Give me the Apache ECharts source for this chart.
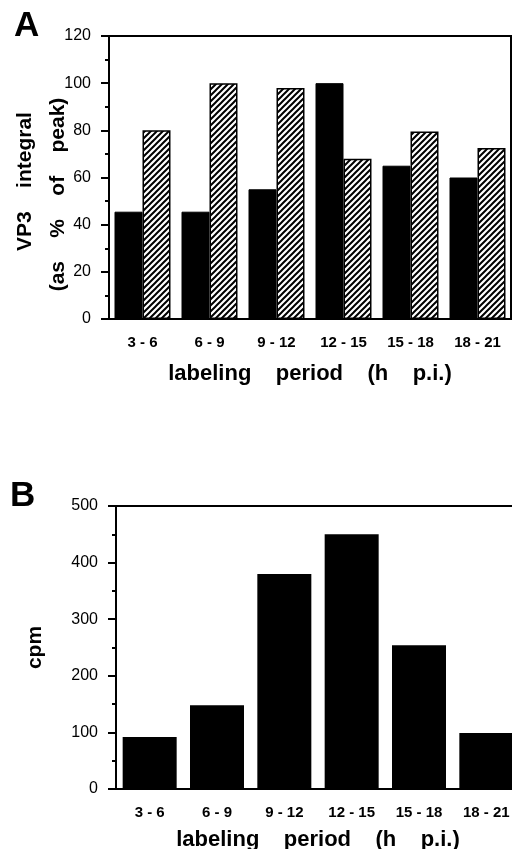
<!DOCTYPE html>
<html>
<head>
<meta charset="utf-8">
<script src="https://cdn.jsdelivr.net/npm/echarts@6/dist/echarts.min.js"></script>
<style>
  html, body { margin: 0; background: #fff; }
  #chart { width: 512px; height: 849px; }
</style>
</head>
<body>
<div id="chart"></div>
<script>
// labeling periods (h p.i.)
const categories = ['3-6', '6-9', '9-12', '12-15', '15-18', '18-21'];
// panel A: VP3 integral, % of peak
const vp3Solid = [45.5, 45.5, 55, 100, 65, 60];
const vp3Hatched = [80, 100, 98, 68, 79.5, 72.5];
// panel B: cpm
const cpm = [92, 148, 380, 450, 254, 99];

const font = '"Liberation Sans", Arial, Helvetica, sans-serif';

// diagonal hatch tile for the striped bars
function hatchTile() {
  const c = document.createElement('canvas');
  c.width = 6; c.height = 6;
  const ctx = c.getContext('2d');
  ctx.fillStyle = '#fff';
  ctx.fillRect(0, 0, 6, 6);
  ctx.strokeStyle = '#000';
  ctx.lineWidth = 2;
  ctx.beginPath();
  ctx.moveTo(-1, 7); ctx.lineTo(7, -1);
  ctx.moveTo(-1, 1); ctx.lineTo(1, -1);
  ctx.moveTo(5, 7); ctx.lineTo(7, 5);
  ctx.stroke();
  return c;
}

const nameStyle = { color: '#000', fontSize: 21, fontWeight: 'bold', fontFamily: font, lineHeight: 33 };

function catAxis(gridIndex, nameGap) {
  return {
    type: 'category',
    gridIndex: gridIndex,
    data: categories,
    axisLine: { lineStyle: { color: '#000', width: 2 } },
    axisTick: { length: 4, lineStyle: { color: '#000', width: 2 } },
    axisLabel: {
      color: '#000', fontSize: 15, fontWeight: 'bold', fontFamily: font, margin: 16,
      formatter: v => v.replace('-', ' - ')
    },
    name: 'labeling    period    (h    p.i.)',
    nameLocation: 'middle',
    nameGap: nameGap,
    nameMoveOverlap: false,
    nameTextStyle: { color: '#000', fontSize: 22, fontWeight: 'bold', fontFamily: font }
  };
}

function valAxis(gridIndex, max, interval, name, nameGap) {
  return {
    type: 'value',
    gridIndex: gridIndex,
    min: 0,
    max: max,
    interval: interval,
    axisLine: { show: true, lineStyle: { color: '#000', width: 2 } },
    axisTick: { show: true, length: 8, lineStyle: { color: '#000', width: 2 } },
    minorTick: { show: true, splitNumber: 2, length: 4, lineStyle: { color: '#000', width: 2 } },
    splitLine: { show: false },
    axisLabel: { color: '#000', fontSize: 16, fontFamily: font, margin: 18 },
    name: name,
    nameLocation: 'middle',
    nameGap: nameGap,
    nameMoveOverlap: false,
    nameRotate: 90,
    nameTextStyle: Object.assign({}, nameStyle, {
      rich: {
        l1: Object.assign({}, nameStyle, { padding: [0, 8, 0, 0] }),
        l2: Object.assign({}, nameStyle, { padding: [0, 34, 0, 0] })
      }
    })
  };
}

const chart = echarts.init(document.getElementById('chart'));

chart.setOption({
  animation: false,
  backgroundColor: '#fff',
  grid: [
    { left: 109, top: 36, right: 1, height: 283, outerBoundsMode: 'none', containLabel: false,
      show: true, borderColor: '#000', borderWidth: 2 },
    { left: 116, top: 506, right: -8, height: 283, outerBoundsMode: 'none', containLabel: false,
      show: true, borderColor: '#000', borderWidth: 2 }
  ],
  xAxis: [catAxis(0, 44), catAxis(1, 40)],
  yAxis: [
    valAxis(0, 120, 20, '{l1|VP3    integral}\n{l2|(as    %    of    peak)}', 34),
    valAxis(1, 500, 100, 'cpm', 64)
  ],
  graphic: [
    { type: 'text', left: 14, top: 9, style: { text: 'A', font: 'bold 35px ' + font, fill: '#000' } },
    { type: 'text', left: 10, top: 479, style: { text: 'B', font: 'bold 35px ' + font, fill: '#000' } }
  ],
  series: [
    {
      type: 'bar', xAxisIndex: 0, yAxisIndex: 0, data: vp3Solid,
      barWidth: 28, barGap: '0%',
      itemStyle: { color: '#000', borderColor: '#000', borderWidth: 1 }
    },
    {
      type: 'bar', xAxisIndex: 0, yAxisIndex: 0, data: vp3Hatched,
      barWidth: 28, barGap: '0%',
      itemStyle: { color: { image: hatchTile(), repeat: 'repeat' }, borderColor: '#000', borderWidth: 1.5 }
    },
    {
      type: 'bar', xAxisIndex: 1, yAxisIndex: 1, data: cpm,
      barWidth: 54,
      itemStyle: { color: '#000' }
    }
  ]
});
</script>
</body>
</html>
